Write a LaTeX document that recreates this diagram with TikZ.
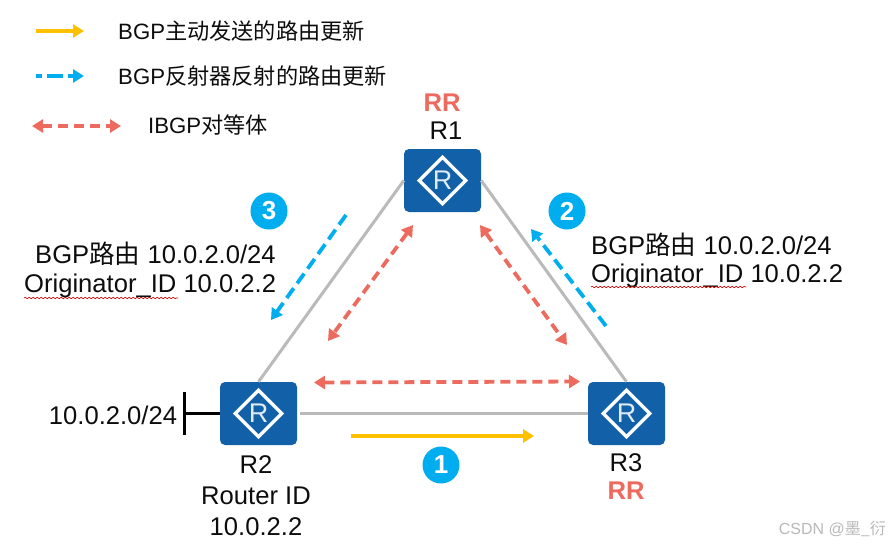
\documentclass[tikz,border=0pt]{standalone}
\usepackage{fontspec}
\setmainfont{Liberation Sans}
\newfontfamily\cjk{Noto Sans CJK SC}
\usetikzlibrary{arrows.meta,shapes.geometric,decorations.pathmorphing}
\definecolor{rblue}{HTML}{1160A8}
\definecolor{linkgray}{HTML}{BABABA}
\definecolor{peer}{HTML}{EC6B5E}
\definecolor{refl}{HTML}{00AEEF}
\definecolor{upd}{HTML}{FFC000}
\tikzset{
  router/.style={draw=none,fill=rblue,rounded corners=5pt,minimum width=77pt,minimum height=63pt,inner sep=0pt},
  rmark/.style={diamond,draw=white,line width=3.4pt,minimum width=48pt,minimum height=48pt,inner sep=0pt,text=white!88!rblue,font=\fontsize{27}{27}\selectfont},
  link/.style={draw=linkgray,line width=3pt},
  peerline/.style={draw=peer,line width=3.8pt,dash pattern=on 10pt off 6pt,{Triangle[length=11pt,width=13pt]}-{Triangle[length=11pt,width=13pt]}},
  reflline/.style={draw=refl,line width=3.8pt,dash pattern=on 12pt off 6pt,-{Triangle[length=11pt,width=13pt]}},
  updline/.style={draw=upd,line width=3.8pt,-{Triangle[length=11pt,width=13pt]}},
  lab/.style={inner sep=0pt,font=\fontsize{25.6}{25.6}\selectfont,text=black!95},
  leg/.style={inner sep=0pt,anchor=west,font=\fontsize{22.2}{22.2}\selectfont,text=black!95},
  rrlab/.style={inner sep=0pt,font=\fontsize{25.6}{25.6}\selectfont\bfseries,text=peer},
  badge/.style={circle,fill=refl,minimum size=37pt,inner sep=0pt,text=white,font=\fontsize{26}{26}\selectfont\bfseries},
  wavy/.style={draw=red!85!black,line width=0.6pt,decorate,decoration={snake,amplitude=0.8pt,segment length=4pt}},
}
\begin{document}
\begin{tikzpicture}[x=1pt,y=-1pt]
\useasboundingbox (0,0) rectangle (889,544);
% routers
\node[router] (r1) at (442.5,180.5) {};
\node[router] (r2) at (258.5,413.5) {};
\node[router] (r3) at (626.5,413.5) {};
\node[rmark] (m1) at (r1) {R};
\node[rmark] (m2) at (r2) {R};
\node[rmark] (m3) at (r3) {R};
% links
\draw[link] (r1.west) -- (r2.north);
\draw[link] (r1.east) -- (r3.north);
\draw[link] ([xshift=3pt]r2.east) -- (r3.west);
% stub network
\coordinate (bartop) at (184.5,392);
\coordinate (barbot) at (184.5,435);
\coordinate (barmid) at (184.5,413.5);
\draw[black,line width=3pt] (bartop) -- (barbot);
\draw[black,line width=3pt] (barmid) -- (r2.west);
% peers
\coordinate (p1a) at (413,225); \coordinate (p1b) at (328,341);
\coordinate (p2a) at (480,225); \coordinate (p2b) at (567,345);
\coordinate (p3a) at (314,382.5); \coordinate (p3b) at (580,381.5);
\draw[peerline] (p1a) -- (p1b);
\draw[peerline] (p2a) -- (p2b);
\draw[peerline] (p3a) -- (p3b);
% updates
\coordinate (u1a) at (351,436); \coordinate (u1b) at (534,436);
\coordinate (u2a) at (606,326); \coordinate (u2b) at (531,229);
\coordinate (u3a) at (346,215); \coordinate (u3b) at (271,320);
\draw[updline] (u1a) -- (u1b);
\draw[reflline] (u2a) -- (u2b);
\draw[reflline] (u3a) -- (u3b);
% badges
\node[badge] (b1) at (441,465) {1};
\node[badge] (b2) at (567,211) {2};
\node[badge] (b3) at (269,211) {3};
% router labels
\node[rrlab] (rr1) at (442,103) {RR};
\node[lab] (t1) at (446,131) {R1};
\node[lab] (t2) at (256,465) {R2};
\node[lab] (t2b) at (256,496) {Router ID};
\node[lab] (t2c) at (256,527) {10.0.2.2};
\node[lab] (t3) at (626,463) {R3};
\node[rrlab] (rr3) at (626,491) {RR};
\node[lab] (net) at (113,415) {10.0.2.0/24};
% route info
\node[lab,anchor=west] (i3a) at (35,254) {BGP{\cjk 路由} 10.0.2.0/24};
\node[lab,anchor=west] (i3b) at (24,286) {Originator\_ID 10.0.2.2};
\node[lab,anchor=west] (i2a) at (591,245) {BGP{\cjk 路由} 10.0.2.0/24};
\node[lab,anchor=west] (i2b) at (591,276) {Originator\_ID 10.0.2.2};
\coordinate (w3a) at (24,298); \coordinate (w3b) at (178,298);
\coordinate (w2a) at (591,287); \coordinate (w2b) at (746,287);
\draw[wavy] (w3a) -- (w3b);
\draw[wavy] (w2a) -- (w2b);
% legend
\coordinate (l1a) at (36,31); \coordinate (l1b) at (84,31);
\coordinate (l2a) at (36,76); \coordinate (l2b) at (84,76);
\coordinate (l3a) at (32,126); \coordinate (l3b) at (121,126);
\draw[updline] (l1a) -- (l1b);
\draw[reflline,dash pattern=on 6pt off 5pt on 16pt off 5pt] (l2a) -- (l2b);
\draw[peerline] (l3a) -- (l3b);
\node[leg] (g1) at (118,31) {BGP{\cjk 主动发送的路由更新}};
\node[leg] (g2) at (118,76) {BGP{\cjk 反射器反射的路由更新}};
\node[leg] (g3) at (148,125) {IBGP{\cjk 对等体}};
% watermark
\node[inner sep=0pt,anchor=east,text=black!28,font=\fontsize{16}{16}\selectfont] (wm) at (886,529) {CSDN @{\cjk 墨\_衍}};
\end{tikzpicture}
\end{document}
